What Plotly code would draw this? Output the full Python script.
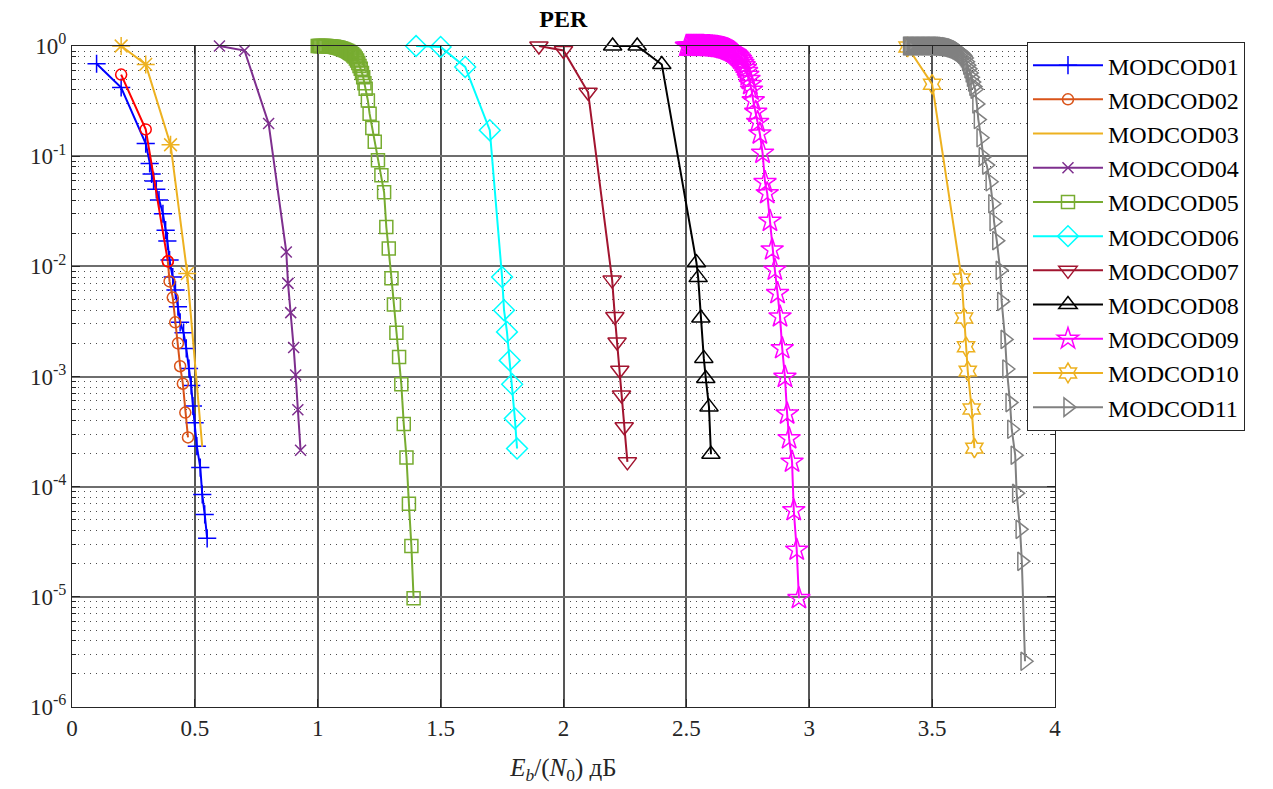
import plotly.graph_objects as go

# ---- PER curves, Eb/N0 in dB ----
x01 = [0.10, 0.20, 0.30, 0.316, 0.324, 0.332, 0.343, 0.354, 0.37, 0.381, 0.388, 0.397, 0.41, 0.421,
       0.431, 0.44, 0.454, 0.465, 0.476, 0.485, 0.492, 0.499, 0.508, 0.522, 0.53, 0.54, 0.55]
y01 = [0.69, 0.42, 0.13, 0.086, 0.069, 0.0596, 0.050, 0.040, 0.030, 0.0213, 0.017, 0.0114, 0.008, 0.0061,
       0.0043, 0.0031, 0.0025, 0.0018, 0.00118, 0.00083, 0.00054, 0.00038, 0.000233, 0.000149, 8.5e-5, 5.6e-5, 3.4e-5]

x02 = [0.39, 0.397, 0.41, 0.42, 0.431, 0.44, 0.451, 0.461, 0.472]
y02 = [0.0111, 0.0073, 0.0052, 0.0031, 0.002, 0.00124, 0.00086, 0.00047, 0.00028]
x02a = [0.20, 0.30, 0.39]
y02a = [0.55, 0.175, 0.0111]

x03 = [0.20, 0.30, 0.401, 0.469, 0.53]
y03 = [1.0, 0.68, 0.127, 0.0086, 2.3e-4]
x03m = [0.20, 0.30, 0.401, 0.469]
y03m = [1.0, 0.68, 0.127, 0.0086]

x04 = [0.6, 0.702, 0.8, 0.872, 0.879, 0.89, 0.902, 0.91, 0.919, 0.93]
y04 = [1.0, 0.91, 0.198, 0.0135, 0.007, 0.0038, 0.00183, 0.00103, 0.0005, 0.000214]

x05 = [1.000, 1.005, 1.010, 1.015, 1.020, 1.025, 1.030, 1.035, 1.040, 1.045,
       1.050, 1.055, 1.060, 1.065, 1.070, 1.075, 1.080, 1.085, 1.090, 1.095,
       1.100, 1.105, 1.110, 1.115, 1.120, 1.125, 1.130, 1.135, 1.140, 1.145,
       1.150, 1.155, 1.160, 1.165, 1.170, 1.175, 1.180, 1.185, 1.190, 1.195,
       1.204, 1.211, 1.222, 1.232, 1.245, 1.259, 1.270, 1.279, 1.289, 1.30,
       1.31, 1.32, 1.331, 1.34, 1.35, 1.361, 1.371, 1.381, 1.39]
y05 = [1.0, 1.0, 1.0, 1.0, 1.0, 1.0, 1.0, 0.998, 0.996, 0.994,
       0.992, 0.989, 0.986, 0.982, 0.978, 0.973, 0.968, 0.962, 0.955, 0.948,
       0.94, 0.93, 0.92, 0.91, 0.90, 0.885, 0.87, 0.855, 0.84, 0.82,
       0.80, 0.77, 0.74, 0.70, 0.66, 0.62, 0.57, 0.52, 0.46, 0.41,
       0.32, 0.243, 0.18, 0.135, 0.092, 0.067, 0.047, 0.0228, 0.0145, 0.0078,
       0.0045, 0.0025, 0.0015, 0.00085, 0.00037, 0.000184, 7.0e-5, 2.9e-5, 9.7e-6]

x06 = [1.4, 1.5, 1.6, 1.7, 1.75, 1.758, 1.77, 1.781, 1.791, 1.802, 1.811]
y06 = [1.0, 0.98, 0.645, 0.172, 0.008, 0.004, 0.00254, 0.0014, 0.00085, 0.000416, 0.000222]

x07 = [1.9, 2.0, 2.1, 2.198, 2.209, 2.218, 2.229, 2.236, 2.247, 2.26]
y07 = [1.0, 0.91, 0.38, 0.0075, 0.0035, 0.00206, 0.00114, 0.00068, 0.00035, 0.000168]

x08 = [2.2, 2.3, 2.4, 2.541, 2.548, 2.559, 2.571, 2.579, 2.592, 2.60]
y08 = [1.0, 1.0, 0.68, 0.0108, 0.0079, 0.0034, 0.00146, 0.00096, 0.00053, 0.000197]

x09 = [2.500, 2.505, 2.510, 2.515, 2.520, 2.525, 2.530, 2.535, 2.540, 2.545,
       2.550, 2.555, 2.560, 2.565, 2.570, 2.575, 2.580, 2.585, 2.590, 2.595,
       2.600, 2.605, 2.610, 2.615, 2.620, 2.625, 2.630, 2.635, 2.640, 2.645,
       2.650, 2.655, 2.660, 2.665, 2.670, 2.675, 2.680, 2.685, 2.690, 2.695,
       2.700, 2.705, 2.710, 2.715, 2.720, 2.725, 2.730, 2.735, 2.740, 2.745,
       2.750, 2.755, 2.760, 2.765, 2.772, 2.782, 2.79, 2.799, 2.81, 2.82,
       2.829, 2.84, 2.849, 2.86, 2.871, 2.881, 2.89, 2.901, 2.91, 2.918,
       2.93, 2.937, 2.949, 2.958]
y09 = [1.0, 1.0, 1.0, 1.0, 1.0, 1.0, 1.0, 1.0, 1.0, 1.0,
       1.0, 1.0, 1.0, 1.0, 1.0, 0.999, 0.998, 0.997, 0.996, 0.995,
       0.993, 0.991, 0.989, 0.986, 0.983, 0.98, 0.976, 0.972, 0.967, 0.962,
       0.956, 0.95, 0.943, 0.935, 0.926, 0.916, 0.905, 0.893, 0.88, 0.865,
       0.85, 0.83, 0.81, 0.785, 0.76, 0.73, 0.70, 0.665, 0.63, 0.59,
       0.545, 0.50, 0.45, 0.40, 0.32, 0.252, 0.204, 0.16, 0.107, 0.058,
       0.046, 0.0258, 0.0142, 0.0093, 0.0057, 0.0035, 0.0018, 0.00099, 0.00046, 0.000274,
       0.000168, 6.1e-5, 2.67e-5, 9.7e-6]

x10 = [3.40, 3.50, 3.62, 3.63, 3.638, 3.645, 3.661, 3.672]
y10 = [0.98, 0.45, 0.0077, 0.0034, 0.00186, 0.00112, 0.000507, 0.000224]

x11 = [3.400, 3.405, 3.410, 3.415, 3.420, 3.425, 3.430, 3.435, 3.440, 3.445,
       3.450, 3.455, 3.460, 3.465, 3.470, 3.475, 3.480, 3.485, 3.490, 3.495,
       3.500, 3.505, 3.510, 3.515, 3.520, 3.525, 3.530, 3.535, 3.540, 3.545,
       3.550, 3.555, 3.560, 3.565, 3.570, 3.575, 3.580, 3.585, 3.590, 3.595,
       3.600, 3.605, 3.610, 3.615, 3.620, 3.625, 3.630, 3.635, 3.640, 3.645,
       3.650, 3.655, 3.660, 3.665, 3.670,
       3.675, 3.682, 3.688, 3.699, 3.708, 3.722, 3.736, 3.747, 3.752, 3.763,
       3.777, 3.783, 3.797, 3.804, 3.817, 3.824, 3.838, 3.844, 3.858, 3.865, 3.878]
y11 = [1.0, 1.0, 1.0, 1.0, 1.0, 1.0, 1.0, 1.0, 1.0, 1.0,
       1.0, 1.0, 1.0, 1.0, 1.0, 1.0, 1.0, 1.0, 1.0, 1.0,
       1.0, 1.0, 1.0, 1.0, 1.0, 0.999, 0.998, 0.997, 0.995, 0.993,
       0.99, 0.987, 0.983, 0.979, 0.974, 0.968, 0.961, 0.953, 0.944, 0.934,
       0.922, 0.909, 0.894, 0.877, 0.858, 0.836, 0.81, 0.78, 0.72, 0.67,
       0.62, 0.57, 0.52, 0.47, 0.43,
       0.405, 0.298, 0.215, 0.147, 0.099, 0.083, 0.0586, 0.037, 0.0254, 0.0171,
       0.0092, 0.0048, 0.00217, 0.00117, 0.00058, 0.000332, 0.000193, 8.7e-5, 4.1e-5, 2.1e-5, 2.6e-6]

xticks = [0, 0.5, 1, 1.5, 2, 2.5, 3, 3.5, 4]
xticklabels = ["0", "0.5", "1", "1.5", "2", "2.5", "3", "3.5", "4"]
yticks = [1e-6, 1e-5, 1e-4, 1e-3, 1e-2, 1e-1, 1]
yticklabels = ["10<sup>-6</sup>", "10<sup>-5</sup>", "10<sup>-4</sup>", "10<sup>-3</sup>",
               "10<sup>-2</sup>", "10<sup>-1</sup>", "10<sup>0</sup>"]
yminor = [m * 10.0 ** e for e in range(-6, 0) for m in range(2, 10)]

FONT = "Liberation Serif"

fig = go.Figure()


def add(x, y, name, color, symbol, size, mode="lines+markers", legend=True, mlw=1.5):
    fig.add_trace(go.Scatter(
        x=x, y=y, name=name, mode=mode, showlegend=legend, cliponaxis=False,
        line=dict(color=color, width=2),
        marker=dict(symbol=symbol, size=size, color=color, line=dict(color=color, width=mlw)),
    ))


add(x01, y01, "MODCOD01", "#0000FF", "cross-thin-open", 13)
add(x02, y02, "MODCOD02", "#D95319", "circle-open", 11)
add(x02a, y02a, "MODCOD02", "#FF0000", "circle-open", 11, legend=False)
add(x03, y03, "MODCOD03", "#EDB120", "circle", 1, mode="lines")
add(x03m, y03m, "MODCOD03", "#EDB120", "asterisk-open", 15, mode="markers", legend=False)
add(x04, y04, "MODCOD04", "#7E2F8E", "x-thin-open", 11)
add(x05, y05, "MODCOD05", "#77AC30", "square-open", 13)
add(x06, y06, "MODCOD06", "#00FFFF", "diamond-open", 16)
add(x07, y07, "MODCOD07", "#A2142F", "triangle-down-open", 16)
add(x08, y08, "MODCOD08", "#000000", "triangle-up-open", 16)
add(x09, y09, "MODCOD09", "#FF00FF", "star-open", 17)
add(x10, y10, "MODCOD10", "#EDB120", "hexagram-open", 15)
add(x11, y11, "MODCOD11", "#808080", "triangle-right-open", 16)

fig.update_layout(
    width=1273, height=789,
    margin=dict(l=72, r=218, t=46, b=82),
    paper_bgcolor="white", plot_bgcolor="white",
    font=dict(family=FONT, size=22, color="#262626"),
    title=dict(text="<b>PER</b>", x=0.4425, xanchor="center", y=0.977, yanchor="middle",
               font=dict(family=FONT, size=24, color="black")),
    legend=dict(x=0.9715, y=1.006, xanchor="left", yanchor="top",
                bgcolor="white", bordercolor="#262626", borderwidth=1,
                font=dict(family=FONT, size=24, color="black"),
                itemwidth=70, tracegroupgap=0, maxheight=700),
    showlegend=True,
)

fig.update_xaxes(
    range=[0, 4], tickvals=xticks, ticktext=xticklabels,
    showline=True, linecolor="#262626", linewidth=1, mirror="allticks",
    ticks="inside", ticklen=8, tickcolor="#262626",
    showgrid=True, gridcolor="#555555", gridwidth=1.5,
    zeroline=False,
    tickfont=dict(family=FONT, size=23, color="#262626"),
    title=dict(text="<i>E</i><sub><i>b</i></sub>/(<i>N</i><sub>0</sub>) дБ",
               font=dict(family=FONT, size=25, color="#262626"), standoff=18),
)

fig.update_yaxes(
    type="log", range=[-6, 0], tickvals=yticks, ticktext=yticklabels,
    showline=True, linecolor="#262626", linewidth=1, mirror="allticks",
    ticks="inside", ticklen=8, tickcolor="#262626",
    showgrid=True, gridcolor="#6e6e6e", gridwidth=1.5,
    zeroline=False,
    tickfont=dict(family=FONT, size=23, color="#262626"),
    minor=dict(tickvals=yminor, ticks="inside", ticklen=4, tickcolor="#262626",
               showgrid=True, gridcolor="rgba(0,0,0,0.7)", griddash="1px,5px", gridwidth=1),
)

fig.write_html("out.html")
